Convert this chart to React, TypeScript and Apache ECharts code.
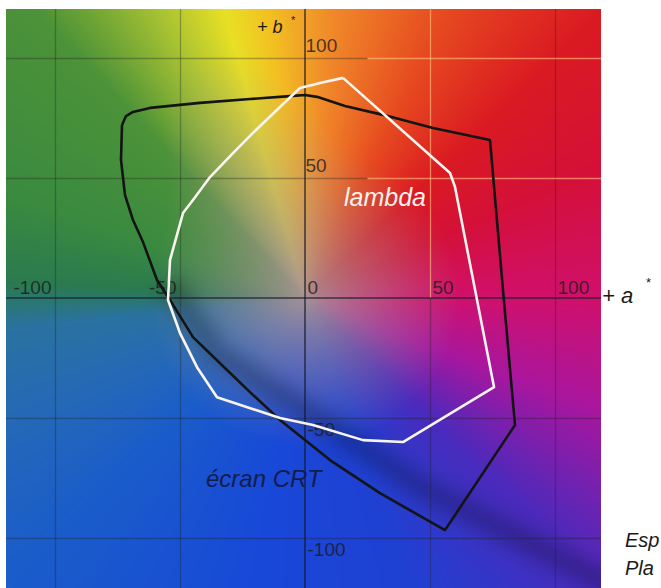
import React, { useEffect, useRef } from "react";
import * as echarts from "echarts";

// Tick values on the a* (horizontal) and b* (vertical) axes
const aTicks = [-100, -50, 0, 50, 100];
const bTicks = [-100, -50, 50, 100];

// Gamut "écran CRT" (black outline), a* and b* values
const crtA = [-73.2, -71.6, -68.8, -62, -42, -22, -4.8, 0, 4.8, 16, 31.2, 51.2, 74, 79.2, 84, 56, 30, 10, -10, -22, -31.2, -44.8, -54, -59.2, -64.8, -68.8, -72, -73.6, -73.2];
const crtB = [72.1, 75.8, 77.5, 79.2, 81.3, 82.9, 84.2, 84.6, 83.8, 80, 76.3, 70.8, 65.8, 3.3, -52.9, -96.7, -81.3, -67.5, -50.8, -39.2, -30, -16.3, -0.8, 7.5, 23.3, 32.5, 42.9, 57.5, 72.1];

// Gamut "lambda" (white outline), a* and b* values
const lambdaA = [15.2, 58, 60, 75.6, 39.2, 23.2, 3.2, -10, -35.2, -43.2, -50, -54.8, -54, -48.8, -44.8, -38, -28.8, -20.8, -10, -2, 6, 15.2];
const lambdaB = [91.7, 52.1, 46.3, -37.1, -60, -59.2, -52.9, -50, -41.3, -28.8, -14.6, -0.8, 15.8, 35.4, 40.8, 50.4, 60.4, 68.8, 79.6, 87.5, 89.6, 91.7];

const A_MIN = -119.6;
const A_MAX = 118.4;
const B_MIN = -120.8;
const B_MAX = 120.4;
const GRID = { left: 6, top: 9, width: 595, height: 579 };

// colour of the a*b* plane by hue angle (degrees)
const hueStops: [number, string][] = [
  [0, "#d0106c"],
  [25, "#d41038"],
  [45, "#da1a22"],
  [65, "#e64a20"],
  [85, "#f08a2a"],
  [97, "#f2c022"],
  [105, "#e8e024"],
  [116, "#a8c232"],
  [132, "#4c9238"],
  [160, "#3a8a40"],
  [177, "#2a7a50"],
  [186, "#2a72a0"],
  [205, "#2468b8"],
  [225, "#1a5cca"],
  [260, "#1848d8"],
  [290, "#2040d2"],
  [315, "#4a2abc"],
  [338, "#a8169e"],
  [360, "#d0106c"],
];
const bandA = [-52, -35, 47, 125];
const bandB = [2, -23, -79, -121];

function hexRgb(c: string) {
  return [parseInt(c.slice(1, 3), 16), parseInt(c.slice(3, 5), 16), parseInt(c.slice(5, 7), 16)];
}

function buildBackground(): string {
  const W = GRID.width;
  const H = GRID.height;
  const cv = document.createElement("canvas");
  cv.width = W;
  cv.height = H;
  const ctx = cv.getContext("2d")!;
  const img = ctx.createImageData(W, H);
  const stops = hueStops.map(([t, c]) => [t, hexRgb(c)] as [number, number[]]);
  const gray = [168, 146, 148];
  for (let py = 0; py < H; py++) {
    const b = B_MAX - ((py + 0.5) / H) * (B_MAX - B_MIN);
    for (let px = 0; px < W; px++) {
      const a = A_MIN + ((px + 0.5) / W) * (A_MAX - A_MIN);
      const r = Math.hypot(a, b);
      let t = (Math.atan2(b, a) * 180) / Math.PI;
      if (t < 0) t += 360;
      let i = 0;
      while (i < stops.length - 2 && t > stops[i + 1][0]) i++;
      const [t0, c0] = stops[i];
      const [t1, c1] = stops[i + 1];
      const f = Math.min(1, Math.max(0, (t - t0) / (t1 - t0)));
      const hc = [0, 1, 2].map((k) => c0[k] + (c1[k] - c0[k]) * f);
      const dt = (t - 112) / 22;
      const r0 = 62 + 50 * Math.exp(-dt * dt);
      const s = Math.pow(Math.min(1, r / r0), 0.8);
      let rgb = [0, 1, 2].map((k) => gray[k] + (hc[k] - gray[k]) * s);
      // dark diagonal band
      let dmin = 1e9;
      for (let j = 0; j < bandA.length - 1; j++) {
        const ax = bandA[j], ay = bandB[j], bx = bandA[j + 1], by = bandB[j + 1];
        const vx = bx - ax, vy = by - ay;
        let u = ((a - ax) * vx + (b - ay) * vy) / (vx * vx + vy * vy);
        u = Math.max(0, Math.min(1, u));
        const d = Math.hypot(a - (ax + u * vx), b - (ay + u * vy));
        if (d < dmin) dmin = d;
      }
      const k = 1 - 0.2 * Math.exp(-(dmin * dmin) / 45);
      rgb = rgb.map((v) => v * k);
      const o = (py * W + px) * 4;
      img.data[o] = rgb[0];
      img.data[o + 1] = rgb[1];
      img.data[o + 2] = rgb[2];
      img.data[o + 3] = 255;
    }
  }
  ctx.putImageData(img, 0, 0);
  return cv.toDataURL("image/png");
}

export default function App() {
  const ref = useRef<HTMLDivElement>(null);
  useEffect(() => {
    document.body.style.margin = "0";
    const chart = echarts.init(ref.current!, undefined, { renderer: "svg" });
    const bg = buildBackground();
    const labelFont = { fontFamily: "Liberation Sans", fontSize: 19, color: "#1a1a1a" };
    const tickData: any[] = [];
    aTicks.forEach((v) => {
      tickData.push({
        value: [v, 0],
        label: {
          formatter: String(v),
          position: v < 0 ? [-3, -1] : [3, -1],
          align: v < 0 ? "right" : "left",
          verticalAlign: "bottom",
        },
      });
    });
    bTicks.forEach((v) => {
      tickData.push({
        value: [0, v],
        label: {
          formatter: String(v),
          position: v > 0 ? [1, -2] : [3, 2],
          align: "left",
          verticalAlign: v > 0 ? "bottom" : "top",
        },
      });
    });
    const dark = { color: "rgba(30,30,30,0.32)", width: 1.3, type: "solid" };
    const light = { color: "rgba(255,196,130,0.6)", width: 1.3, type: "solid" };
    const axisStyle = { color: "rgba(20,25,40,0.75)", width: 1.6, type: "solid" };
    const seg = (x1: number, y1: number, x2: number, y2: number, style: any) => [
      { coord: [x1, y1], lineStyle: style },
      { coord: [x2, y2] },
    ];
    const lines: any[] = [];
    aTicks.forEach((v) => {
      if (v === 0) lines.push(seg(v, B_MIN, v, B_MAX, axisStyle));
      else if (v === 50) {
        lines.push(seg(v, B_MIN, v, 0, dark));
        lines.push(seg(v, 0, v, B_MAX, light));
      } else lines.push(seg(v, B_MIN, v, B_MAX, dark));
    });
    lines.push(seg(A_MIN, 0, A_MAX, 0, axisStyle));
    bTicks.forEach((v) => {
      if (v > 0) {
        lines.push(seg(A_MIN, v, 25, v, dark));
        lines.push(seg(25, v, A_MAX, v, light));
      } else lines.push(seg(A_MIN, v, A_MAX, v, dark));
    });
    chart.setOption({
      animation: false,
      grid: { left: GRID.left, top: GRID.top, width: GRID.width, height: GRID.height },
      xAxis: { type: "value", min: A_MIN, max: A_MAX, show: false },
      yAxis: { type: "value", min: B_MIN, max: B_MAX, show: false },
      graphic: [
        {
          type: "image",
          x: GRID.left,
          y: GRID.top,
          z: -10,
          style: { image: bg, x: 0, y: 0, width: GRID.width, height: GRID.height },
        },
        { type: "text", x: 257, y: 18, z: 50, style: { text: "+ b", fontFamily: "Liberation Sans", fontStyle: "italic", fontSize: 18, fill: "#1a1a1a" } },
        { type: "text", x: 291, y: 14, z: 50, style: { text: "*", fontFamily: "Liberation Sans", fontSize: 11, fill: "#1a1a1a" } },
        { type: "text", x: 602, y: 284, z: 50, style: { text: "+ a", fontFamily: "Liberation Sans", fontStyle: "italic", fontSize: 22, fill: "#1a1a1a" } },
        { type: "text", x: 646, y: 276, z: 50, style: { text: "*", fontFamily: "Liberation Sans", fontSize: 13, fill: "#1a1a1a" } },
        { type: "text", x: 344, y: 184, z: 50, style: { text: "lambda", fontFamily: "Liberation Sans", fontStyle: "italic", fontSize: 25, fill: "#fbf3ec" } },
        { type: "text", x: 206, y: 466, z: 50, style: { text: "écran CRT", fontFamily: "Liberation Sans", fontStyle: "italic", fontSize: 24, fill: "#141c4c" } },
        { type: "text", x: 625, y: 530, z: 50, style: { text: "Esp", fontFamily: "Liberation Sans", fontStyle: "italic", fontSize: 20, fill: "#1a1a1a" } },
        { type: "text", x: 625, y: 558, z: 50, style: { text: "Pla", fontFamily: "Liberation Sans", fontStyle: "italic", fontSize: 20, fill: "#1a1a1a" } },
      ],
      series: [
        {
          type: "scatter",
          symbol: "circle",
          symbolSize: 1,
          itemStyle: { color: "rgba(0,0,0,0)" },
          silent: true,
          z: 5,
          label: { show: true, ...labelFont },
          data: tickData,
          markLine: {
            silent: true,
            symbol: ["none", "none"],
            label: { show: false },
            data: lines,
          },
        },
        {
          name: "écran CRT",
          type: "line",
          data: crtA.map((a, i) => [a, crtB[i]]),
          showSymbol: false,
          smooth: false,
          z: 6,
          lineStyle: { color: "#141414", width: 2.6, join: "round" },
        },
        {
          name: "lambda",
          type: "line",
          data: lambdaA.map((a, i) => [a, lambdaB[i]]),
          showSymbol: false,
          smooth: false,
          z: 7,
          lineStyle: { color: "#f8f4ee", width: 2.6, join: "round" },
        },
      ],
    });
    return () => chart.dispose();
  }, []);
  return <div ref={ref} style={{ width: 661, height: 588 }} />;
}
